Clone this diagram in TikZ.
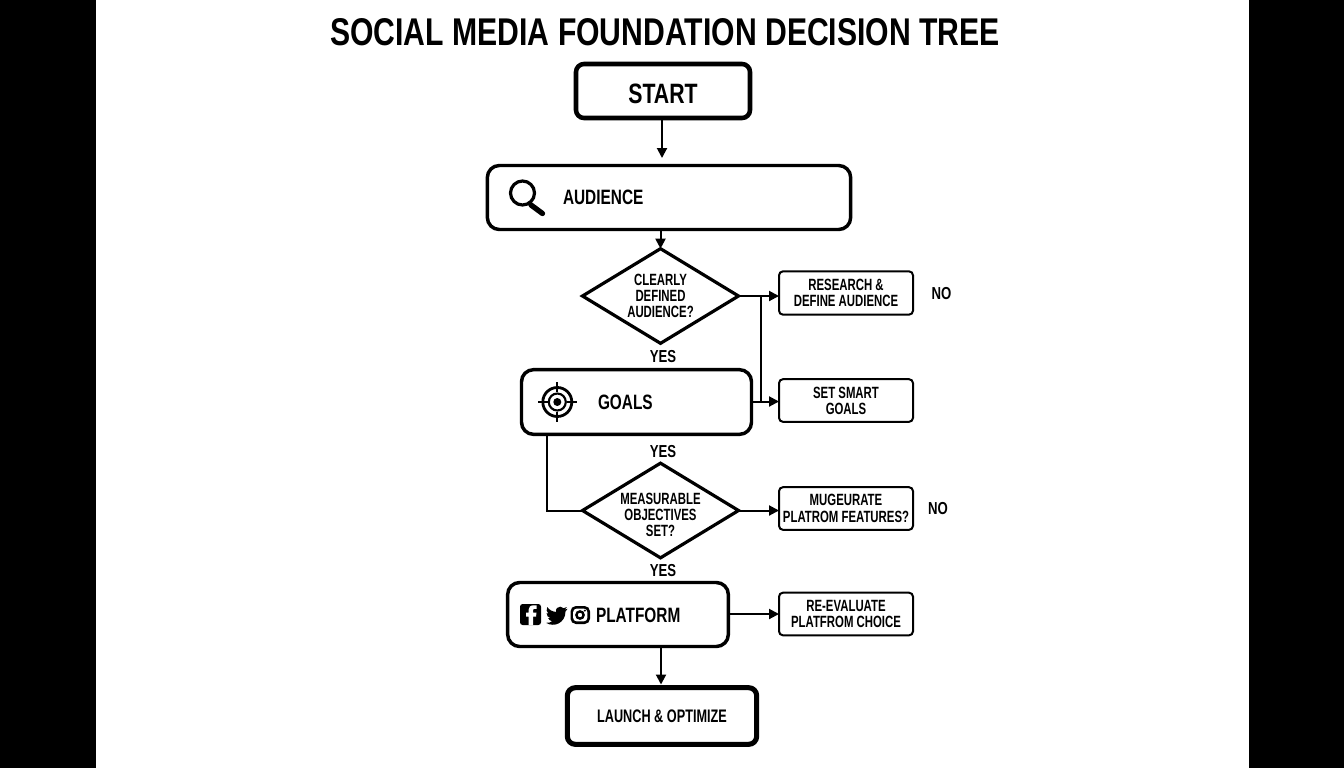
\documentclass[tikz,border=0pt]{standalone}
\usepackage{fontspec}
\usetikzlibrary{shapes.geometric,arrows.meta}
\newfontfamily\cf{Liberation Sans Bold}[FakeStretch=0.76]
\newfontfamily\tf{Liberation Sans Bold}[FakeStretch=0.78]
\newfontfamily\mf{Liberation Sans Bold}[FakeStretch=0.74]
\newfontfamily\nf{Liberation Sans Bold}[FakeStretch=0.70]
\tikzset{
  x=0.75pt,y=-0.75pt,
  bigbox/.style={draw=black,fill=white,rounded corners=9pt,line width=2.6pt,inner sep=0pt,outer sep=0pt},
  smallbox/.style={draw=black,fill=white,rounded corners=3pt,line width=1.5pt,inner sep=0pt,outer sep=0pt,minimum width=100.5pt},
  choice/.style={diamond,draw=black,fill=white,line width=2.4pt,inner sep=0pt,outer sep=0pt,minimum width=117pt,minimum height=71pt,aspect=1.66},
  lab/.style={inner sep=0pt,outer sep=0pt,align=center,font=\nf\fontsize{12.2}{12.2}\selectfont},
  tag/.style={inner sep=0pt,outer sep=0pt,font=\cf\fontsize{13}{13}\selectfont},
  big/.style={inner sep=0pt,outer sep=0pt,anchor=west,font=\mf\fontsize{15.6}{15.6}\selectfont},
  conn/.style={draw=black,line width=1.5pt,-{Triangle[length=7.5pt,width=7.5pt]}},
  plainconn/.style={draw=black,line width=1.5pt}
}
\begin{document}
\begin{tikzpicture}
\useasboundingbox (0,0) rectangle (1344,768);
\fill[white] (0,0) rectangle (1344,768);
\fill[black] (0,0) rectangle (96,768);
\fill[black] (1249,0) rectangle (1344,768);
\node[inner sep=0pt,font=\tf\fontsize{29}{29}\selectfont] (title) at (665,32) {SOCIAL MEDIA FOUNDATION DECISION TREE};
% main boxes
\node[bigbox,line width=3.4pt,rounded corners=6pt,minimum width=130.5pt,minimum height=40.5pt] (start) at (663,91) {};
\node[inner sep=0pt,font=\cf\fontsize{21}{21}\selectfont] (starttxt) at (663,93.5) {START};
\node[bigbox,minimum width=272.5pt,minimum height=48pt] (aud) at (669,197.5) {};
\node[big] (audtxt) at (563,197) {AUDIENCE};
\node[choice] (d1) at (660.5,296) {};
\node[lab] (d1txt) at (660.5,296) {CLEARLY\\DEFINED\\AUDIENCE?};
\node[bigbox,minimum width=172.5pt,minimum height=48.5pt] (goals) at (636.5,402) {};
\node[big] (goalstxt) at (598,402) {GOALS};
\node[choice] (d2) at (660.5,510.5) {};
\node[lab] (d2txt) at (660.5,515) {MEASURABLE\\OBJECTIVES\\SET?};
\node[bigbox,minimum width=165.5pt,minimum height=48pt] (plat) at (618,614.5) {};
\node[big] (plattxt) at (596,615) {PLATFORM};
\node[bigbox,line width=3.8pt,rounded corners=6pt,minimum width=142pt,minimum height=42.5pt] (launch) at (662,716) {};
\node[inner sep=0pt,font=\nf\fontsize{13.6}{13.6}\selectfont] (launchtxt) at (662,716) {LAUNCH \& OPTIMIZE};
% side boxes
\node[smallbox,minimum height=32.5pt] (r1) at (846,293) {};
\node[lab] (r1txt) at (846,293) {RESEARCH \&\\DEFINE AUDIENCE};
\node[smallbox,minimum height=32pt] (r2) at (846,400.5) {};
\node[lab] (r2txt) at (846,401) {SET SMART\\GOALS};
\node[smallbox,minimum height=32pt] (r3) at (846,508.5) {};
\node[lab] (r3txt) at (846,508.5) {MUGEURATE\\PLATROM FEATURES?};
\node[smallbox,minimum height=32pt] (r4) at (846,614) {};
\node[lab] (r4txt) at (846,614) {RE-EVALUATE\\PLATFROM CHOICE};
% tags
\node[tag] (y1) at (663,357) {YES};
\node[tag] (y2) at (663,452) {YES};
\node[tag] (y3) at (663,571) {YES};
\node[tag] (n1) at (941.5,294) {NO};
\node[tag] (n2) at (938,509) {NO};
% connectors
\coordinate (junction1) at (761,296);
\coordinate (junction2) at (761,401.5);
\draw[conn] (start.south -| 662,0) -- (662,158);
\draw[conn] (aud.south -| d1.north) -- (d1.north);
\draw[conn] (d1.east) -- (r1.west |- d1.east);
\draw[plainconn] (junction1) -- (junction2);
\draw[conn] (goals.east |- junction2) -- (r2.west |- junction2);
\draw[plainconn] (547,435) -- (547,510.5) -- (d2.west);
\draw[conn] (d2.east) -- (r3.west |- d2.east);
\draw[conn] (plat.east |- r4.west) -- (r4.west);
\draw[conn] (661,647) -- (661,684.5);
% magnifier
\draw[black,line width=2.4pt] (522.5,193) circle (12);
\draw[black,line width=4pt,line cap=round] (531,205) -- (542.5,213.5);
% target
\draw[black,line width=2.1pt] (557.3,402) circle (14.5);
\draw[black,line width=1.6pt] (557.3,402) circle (8.5);
\fill[black] (557.3,402) circle (4);
\draw[black,line width=1.4pt] (538,402) -- (548,402) (566.5,402) -- (577,402) (557.3,382) -- (557.3,392) (557.3,412) -- (557.3,422);
% facebook
\fill[black,rounded corners=2pt] (520,604) rectangle (541,625);
\fill[white] (533,625) -- (533,616.5) -- (536,616.5) -- (536.5,612.5) -- (533,612.5) -- (533,610.5) .. controls (533,609.2) and (533.7,608.8) .. (535,608.8) -- (536.7,608.8) -- (536.7,605.3) -- (533.5,605.3) .. controls (530.2,605.3) and (528.5,607.3) .. (528.5,610) -- (528.5,612.5) -- (526,612.5) -- (526,616.5) -- (528.5,616.5) -- (528.5,625) -- cycle;
% twitter
\fill[black] (567.5,608.8) .. controls (566.5,609.3) and (565.6,609.6) .. (564.8,609.7) .. controls (565.8,609) and (566.4,608.2) .. (566.8,607) .. controls (565.8,607.6) and (564.7,608) .. (563.7,608.2) .. controls (561.8,606.2) and (558.6,606.2) .. (557,608) .. controls (555.9,609.2) and (555.7,610.6) .. (556.1,611.9) .. controls (552.5,611.7) and (549.3,610) .. (547.2,607) .. controls (546,609.5) and (546.6,612.2) .. (548.5,613.6) .. controls (547.8,613.6) and (547.1,613.4) .. (546.6,613.1) .. controls (546.6,615.6) and (548,617.4) .. (550.2,618) .. controls (549.6,618.2) and (548.9,618.2) .. (548.2,618.1) .. controls (548.8,619.9) and (550.4,621) .. (552.3,621.2) .. controls (550.6,622.5) and (548.4,623.1) .. (546,622.8) .. controls (554,627.8) and (565.4,623) .. (565.5,611.5) .. controls (566.3,610.8) and (567,609.9) .. (567.5,608.8) -- cycle;
% instagram
\fill[black,rounded corners=4pt] (570.5,606) rectangle (590,624);
\fill[white,rounded corners=2.5pt] (573.2,608.7) rectangle (587.3,621.3);
\draw[black,line width=1.8pt] (580,615) circle (3.6);
\fill[black] (584.8,610.6) circle (1.1);
\end{tikzpicture}
\end{document}
